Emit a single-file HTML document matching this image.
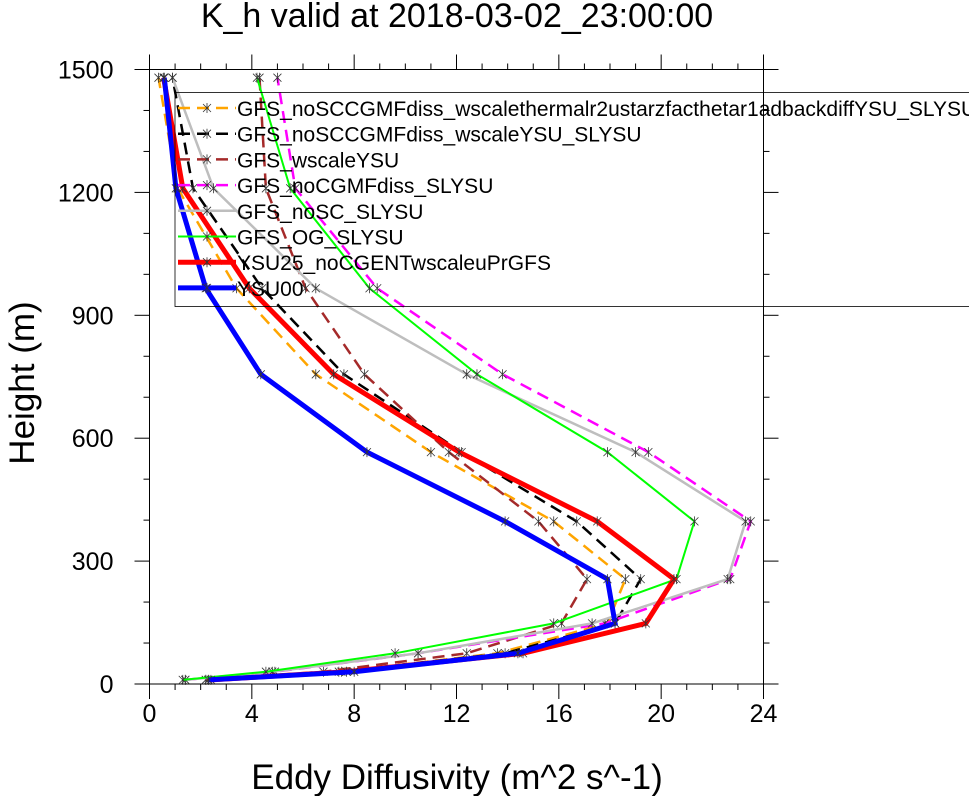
<!DOCTYPE html>
<html><head><meta charset="utf-8"><style>
body{margin:0;background:#fff;}
svg text{font-family:"Liberation Sans",sans-serif;fill:#000;}
</style></head><body>
<svg id="chart" width="969" height="796" xmlns="http://www.w3.org/2000/svg">
<text x="457" y="27" font-size="34" text-anchor="middle">K_h valid at 2018-03-02_23:00:00</text>
<g id="axes"></g>
<g id="series"></g>
<g id="legend"></g>
<text x="457" y="789" font-size="35" text-anchor="middle">Eddy Diffusivity (m^2 s^-1)</text>
<text transform="translate(34,383) rotate(-90)" font-size="35" text-anchor="middle">Height (m)</text>
</svg>
<script>
const heights=[10,30,75,148,256,397,566,756,966,1210,1480];
const seriesNames=["GFS_noSCCGMFdiss_wscalethermalr2ustarzfacthetar1adbackdiffYSU_SLYSU","GFS_noSCCGMFdiss_wscaleYSU_SLYSU","GFS_wscaleYSU","GFS_noCGMFdiss_SLYSU","GFS_noSC_SLYSU","GFS_OG_SLYSU","YSU25_noCGENTwscaleuPrGFS","YSU00"];
const orangeVals=[2.3,7.5,13.6,17.9,18.6,15.8,11.0,6.5,3.4,1.1,0.35];
const blackVals=[2.2,7.4,13.9,18.2,19.2,16.7,12.2,7.6,4.4,1.7,0.9];
const brownVals=[2.2,6.8,12.4,16.1,17.1,15.2,11.7,8.4,6.1,4.55,4.3];
const magentaVals=[1.4,4.9,10.5,17.8,22.7,23.5,19.5,13.8,8.9,5.7,5.0];
const grayVals=[1.4,4.8,10.5,17.3,22.6,23.3,19.0,12.4,6.5,2.5,0.9];
const greenVals=[1.3,4.55,9.6,15.8,20.6,21.3,17.9,12.8,8.6,5.5,4.2];
const redVals=[2.4,7.7,14.6,19.4,20.5,17.5,12.1,7.2,3.9,1.3,0.55];
const blueVals=[2.3,8.0,14.4,18.2,17.9,13.9,8.5,4.35,2.2,1.03,0.58];
const xTicks=[0,4,8,12,16,20,24];
const yTicks=[0,300,600,900,1200,1500];

const X0=149.5,X1=763.5,Y0=684,Y1=69.5;
const xs=v=>X0+(v-0)/24*(X1-X0);
const ys=h=>Y0-(h-0)/1500*(Y0-Y1);
const NS="http://www.w3.org/2000/svg";
function mk(tag,attrs,parent){const e=document.createElementNS(NS,tag);for(const k in attrs)e.setAttribute(k,attrs[k]);parent.appendChild(e);return e;}
const axes=document.getElementById('axes');
const frame=mk('rect',{x:X0,y:Y1,width:X1-X0,height:Y0-Y1,fill:'none',stroke:'#000','stroke-width':1},axes);


for(let v=0;v<=24;v++){const major=v%4===0;const L=major?15:6;
 const t1=mk('line',{x1:xs(v),x2:xs(v),y1:Y0,y2:Y0+L,stroke:'#000'},axes);
 
 
 const t2=mk('line',{x1:xs(v),x2:xs(v),y1:Y1,y2:Y1-L,stroke:'#000'},axes);
 
 }
xTicks.forEach(v=>{const t=mk('text',{x:xs(v),y:Y0+38,'font-size':25,'text-anchor':'middle'},axes);t.textContent=v;
 
 });
for(let h=0;h<=1500;h+=100){const major=h%300===0;const L=major?15:6;
 const t1=mk('line',{x1:X0,x2:X0-L,y1:ys(h),y2:ys(h),stroke:'#000'},axes);
 
 
 const t2=mk('line',{x1:X1,x2:X1+L,y1:ys(h),y2:ys(h),stroke:'#000'},axes);
 
 }
yTicks.forEach(h=>{const t=mk('text',{x:X0-36,y:ys(h)+9,'font-size':25,'text-anchor':'end'},axes);t.textContent=h;
 
 });

const styles=[
 {vals:orangeVals,color:'#ffa500',w:2.5,dash:'12,7',key:'orange'},
 {vals:blackVals,color:'#000',w:2.5,dash:'12,7',key:'black'},
 {vals:brownVals,color:'#a52a2a',w:2.5,dash:'12,7',key:'brown'},
 {vals:magentaVals,color:'#ff00ff',w:2.5,dash:'12,7',key:'magenta'},
 {vals:grayVals,color:'#bebebe',w:2.5,dash:'',key:'gray'},
 {vals:greenVals,color:'#00ff00',w:2,dash:'',key:'green'},
 {vals:redVals,color:'#ff0000',w:5,dash:'',key:'red'},
 {vals:blueVals,color:'#0000ff',w:5,dash:'',key:'blue'}];
const sg=document.getElementById('series');
function star(x,y,g){const p=mk('path',{d:`M${x-4},${y-4}L${x+4},${y+4}M${x-4},${y+4}L${x+4},${y-4}M${x},${y-5}L${x},${y+5}`,stroke:'#333','stroke-width':0.8,fill:'none'},g);
 
 }
styles.forEach((s,i)=>{
 const pts=s.vals.map((v,j)=>xs(v).toFixed(1)+','+ys(heights[j]).toFixed(1)).join(' ');
 const pl=mk('polyline',{points:pts,fill:'none',stroke:s.color,'stroke-width':s.w,'stroke-dasharray':s.dash,'stroke-linejoin':'miter'},sg);
 
 
 s.vals.forEach((v,j)=>star(xs(v),ys(heights[j]),sg));
});
const lg=document.getElementById('legend');
const box=mk('rect',{x:175,y:92.5,width:800,height:214,fill:'none',stroke:'#000','stroke-width':0.8},lg);


styles.forEach((s,i)=>{const y=108+i*25.7;
 const l=mk('line',{x1:178,x2:236,y1:y,y2:y,stroke:s.color,'stroke-width':s.w,'stroke-dasharray':s.dash},lg);
 
 
 star(207,y,lg);
 const t=mk('text',{x:237,y:y+8,'font-size':21},lg);t.textContent=seriesNames[i];
 
 });
</script>
</body></html>
